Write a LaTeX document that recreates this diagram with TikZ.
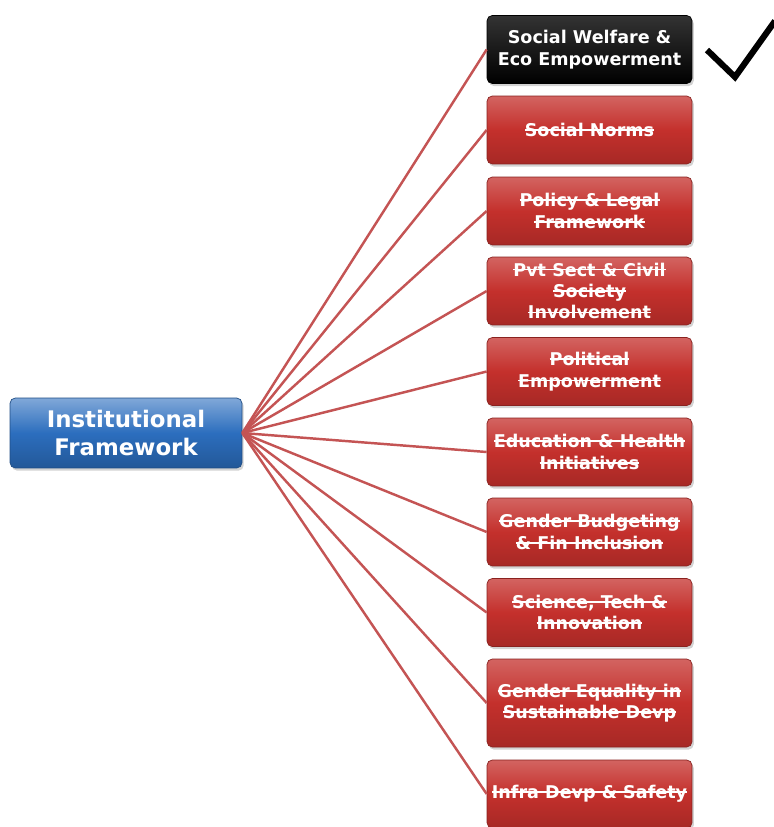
\documentclass[tikz,border=0pt]{standalone}
\usepackage{fontspec}
\setmainfont{DejaVu Sans}
\usepackage{tikz}
\usetikzlibrary{shadows}
\definecolor{boxred}{RGB}{196,48,44}
\definecolor{boxblue}{RGB}{44,110,190}
\definecolor{linkred}{RGB}{196,84,84}
\tikzset{topic/.style={rectangle, rounded corners=3pt, draw=boxred!70!black,
      top color=boxred!75!white, bottom color=boxred!85!black, middle color=boxred,
      minimum width=4.1cm, minimum height=1.36cm, align=center, text=white,
      font=\bfseries\fontsize{10}{12.2}\selectfont, inner sep=1pt,
      drop shadow={opacity=0.35, shadow xshift=1pt, shadow yshift=-1.5pt}}}
\tikzset{link/.style={draw=linkred, line width=1.4pt}}
\newsavebox{\xsbox}
\newcommand{\xs}[1]{\sbox{\xsbox}{#1}\rlap{\raisebox{0.32em}{\rule{\wd\xsbox}{0.1em}}}\usebox{\xsbox}}

\begin{document}
\begin{tikzpicture}[x=0.02cm, y=-0.02cm]
    \useasboundingbox (0,0) rectangle (773,827);
    \node[rectangle, rounded corners=3pt, draw=boxblue!70!black,
      top color=boxblue!60!white, bottom color=boxblue!80!black, middle color=boxblue,
      minimum width=4.64cm, minimum height=1.4cm, align=center, text=white,
      font=\bfseries\fontsize{13}{15.5}\selectfont, inner sep=1pt,
      drop shadow={opacity=0.35, shadow xshift=1pt, shadow yshift=-1.5pt}]
      (inst) at (126,433) {Institutional\\Framework};
    \node[topic, top color=black!80, middle color=black, bottom color=black, draw=black]
      (welfare) at (589.5,49.5) {Social Welfare \&\\Eco Empowerment};
    \node[topic] (norms) at (589.5,130) {\xs{Social Norms}};
    \node[topic] (policy) at (589.5,211) {\xs{Policy \& Legal}\\\xs{Framework}};
    \node[topic] (pvt) at (589.5,291) {\xs{Pvt Sect \& Civil}\\\xs{Society}\\\xs{Involvement}};
    \node[topic] (political) at (589.5,371.5) {\xs{Political}\\\xs{Empowerment}};
    \node[topic] (edu) at (589.5,452) {\xs{Education \& Health}\\\xs{Initiatives}};
    \node[topic] (budget) at (589.5,532) {\xs{Gender Budgeting}\\\xs{\& Fin Inclusion}};
    \node[topic] (science) at (589.5,612.5) {\xs{Science, Tech \&}\\\xs{Innovation}};
    \node[topic, minimum height=1.76cm] (equality) at (589.5,703) {\xs{Gender Equality in}\\\xs{Sustainable Devp}};
    \node[topic] (infra) at (589.5,794) {\xs{Infra Devp \& Safety}};
    % spokes
    \foreach \b in {welfare,norms,policy,pvt,political,edu,budget,science,equality,infra}
      \draw[link] (inst.east) -- (\b.west);
    % tick
    \coordinate (tickA) at (707,50);
    \coordinate (tickB) at (735,77);
    \coordinate (tickC) at (775,21);
    \draw[line width=3.5pt, line join=miter] (tickA) -- (tickB) -- (tickC);
\end{tikzpicture}
\end{document}
